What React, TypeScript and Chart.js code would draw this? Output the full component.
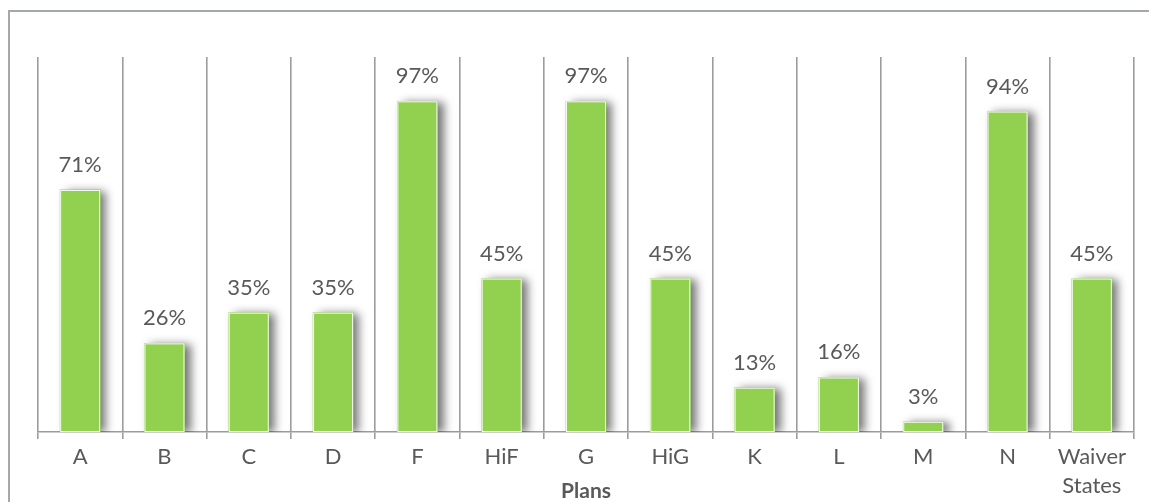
import React, { useEffect, useRef } from "react";
import { Chart, registerables } from "chart.js";

Chart.register(...registerables);

const categories: (string | string[])[] = ["A", "B", "C", "D", "F", "HiF", "G", "HiG", "K", "L", "M", "N", ["Waiver", "States"]];
const values: number[] = [71, 26, 35, 35, 97, 45, 97, 45, 13, 16, 3, 94, 45];
const axisTitle = "Plans";

const FONT = "Lato, 'Open Sans', sans-serif";
const TEXT = "#595959";

export default function App() {
  const ref = useRef<HTMLCanvasElement>(null);
  useEffect(() => {
    if (!ref.current) return;
    const framePlugin = {
      id: "frame",
      beforeDraw(chart: any) {
        const ctx = chart.ctx;
        ctx.save();
        ctx.strokeStyle = "#a4a8aa";
        ctx.lineWidth = 2;
        ctx.beginPath();
        ctx.moveTo(9, 502);
        ctx.lineTo(9, 11);
        ctx.lineTo(1149, 11);
        ctx.stroke();
        ctx.restore();
      },
    };
    const shadowPlugin = {
      id: "barShadow",
      beforeDatasetsDraw(chart: any) {
        const ctx = chart.ctx;
        ctx.save();
        ctx.shadowColor = "rgba(0,0,0,0.55)";
        ctx.shadowBlur = 9;
        ctx.shadowOffsetX = 6;
        ctx.shadowOffsetY = 1;
      },
      afterDatasetsDraw(chart: any) {
        chart.ctx.restore();
      },
    };
    const labelPlugin = {
      id: "valueLabels",
      afterDatasetsDraw(chart: any) {
        const ctx = chart.ctx;
        const meta = chart.getDatasetMeta(0);
        ctx.save();
        // thin light edge on bars
        ctx.strokeStyle = "rgba(255,255,255,0.9)";
        ctx.lineWidth = 1;
        meta.data.forEach((el: any) => {
          const half = el.width / 2;
          ctx.strokeRect(el.x - half + 0.5, el.y + 0.5, el.width - 1, el.base - el.y - 1);
        });
        ctx.fillStyle = TEXT;
        ctx.font = `22px ${FONT}`;
        ctx.textAlign = "center";
        ctx.textBaseline = "alphabetic";
        meta.data.forEach((el: any, i: number) => {
          ctx.fillText(values[i] + "%", el.x, el.y - 18);
        });
        ctx.restore();
      },
    };
    const chart = new Chart(ref.current, {
      type: "bar",
      data: {
        labels: categories,
        datasets: [
          {
            data: values,
            backgroundColor: "#92d050",
            borderWidth: 0,
            barThickness: 40,
          },
        ],
      },
      options: {
        animation: false,
        responsive: true,
        maintainAspectRatio: false,
        layout: { padding: { left: 38, right: 15, top: 57, bottom: 0 } },
        plugins: { legend: { display: false }, tooltip: { enabled: false } },
        scales: {
          y: { display: false, min: 0, max: 110 },
          x: {
            afterFit: (s: any) => {
              s.height = 70;
            },
            grid: {
              offset: true,
              color: "#9c9c9c",
              lineWidth: 1.6,
              tickLength: 7,
              drawOnChartArea: true,
            },
            border: { color: "#9c9c9c", width: 1.6 },
            ticks: {
              color: TEXT,
              font: { family: FONT, size: 22, lineHeight: 1.3 },
              padding: 4,
              maxRotation: 0,
              autoSkip: false,
            },
            title: {
              display: true,
              text: axisTitle,
              color: TEXT,
              font: { family: FONT, size: 21, weight: "bold" },
              padding: { top: 0, bottom: -2 },
            },
          },
        },
      },
      plugins: [framePlugin, shadowPlugin, labelPlugin],
    });
    return () => chart.destroy();
  }, []);
  return (
    <div style={{ position: "fixed", left: 0, top: 0, width: 1149, height: 502 }}>
      <canvas ref={ref} />
    </div>
  );
}
